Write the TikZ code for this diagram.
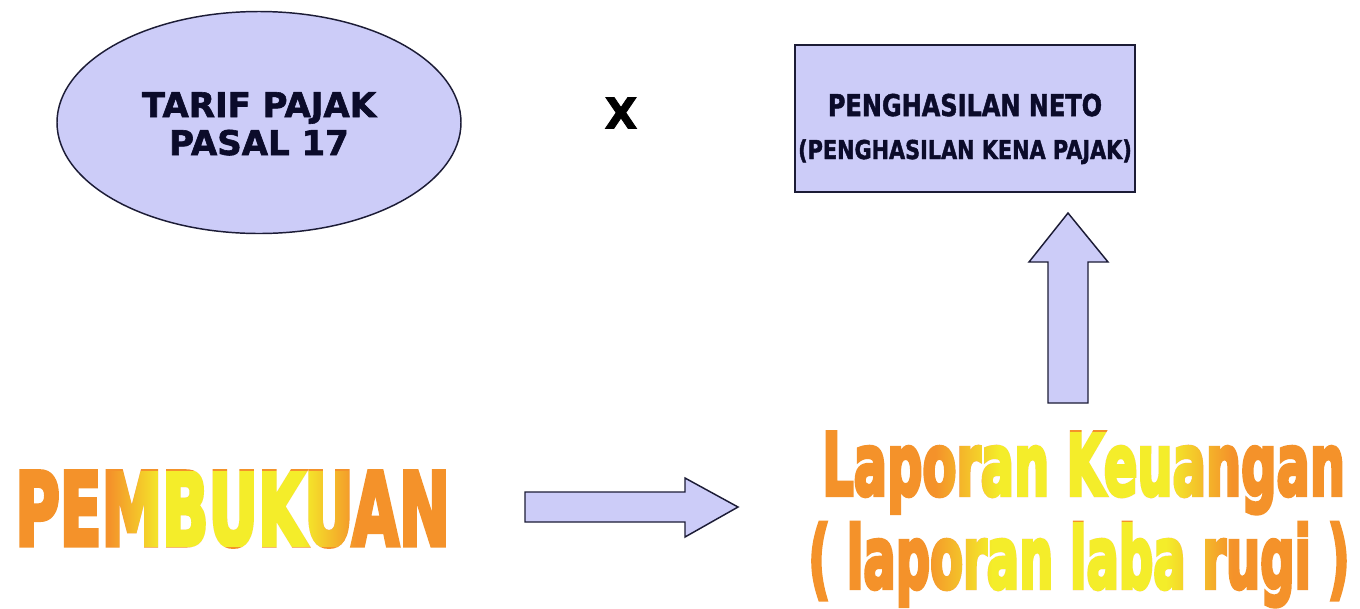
\documentclass[tikz,border=0pt]{standalone}
\usepackage{fontspec}
\usepackage{graphicx}
\setmainfont{DejaVu Sans}[BoldFeatures={FakeBold=1.8}]
\newfontfamily\goldfont{DejaVu Sans}[BoldFeatures={FakeBold=5}]
\usetikzlibrary{shapes.geometric}
\definecolor{lav}{HTML}{CCCCF8}
\definecolor{edgec}{HTML}{1C1C36}
\definecolor{ink}{HTML}{0B0B2A}
\definecolor{org}{HTML}{F4922A}
\pgfdeclarehorizontalshading{goldglow}{100bp}{rgb(0bp)=(0,0,0); rgb(25bp)=(0,0,0); rgb(32bp)=(0,0.35,0.02); rgb(42bp)=(0,0.93,0.02); rgb(58bp)=(0,0.93,0.02); rgb(68bp)=(0,0.35,0.02); rgb(75bp)=(0,0,0); rgb(100bp)=(0,0,0)}
\newcommand{\txtPemb}{\resizebox{326pt}{55pt}{\goldfont\bfseries PEMBUKUAN}}
\newcommand{\txtLapA}{\resizebox{392pt}{47pt}{\goldfont\bfseries Laporan Keuangan}}
\newcommand{\txtLapB}{\resizebox{406pt}{49pt}{\goldfont\bfseries ( laporan laba rugi )}}
\tikzset{
  shapefill/.style={draw=edgec, fill=lav, line width=1.1pt, line join=miter},
  darktext/.style={text=ink, font=\bfseries, inner sep=0pt},
  goldtext/.style={text=org, inner sep=0pt},
}
\begin{document}
\begin{tikzpicture}[x=0.75pt,y=-0.75pt]
\useasboundingbox (0,0) rectangle (1360,608);
\fill[white] (0,0) rectangle (1360,608);

% ellipse
\node[ellipse, shapefill, minimum width=303pt, minimum height=166.5pt] (tarif) at (259,122.5) {};
\node[darktext, anchor=base, font=\bfseries\fontsize{25.5}{25.5}\selectfont] (tarifA) at (259,117) {TARIF PAJAK};
\node[darktext, anchor=base, font=\bfseries\fontsize{25.5}{25.5}\selectfont] (tarifB) at (259,155) {PASAL 17};

% multiplication sign
\node[darktext, font=\bfseries\fontsize{32}{32}\selectfont, text=black] (times) at (621,113) {X};

% rectangle
\node[rectangle, shapefill, minimum width=255pt, minimum height=110pt] (neto) at (965,118.5) {};
\node[darktext, anchor=base] (netoA) at (965,116)
  {\scalebox{0.8}[1]{\fontsize{22.5}{22.5}\selectfont PENGHASILAN NETO}};
\node[darktext, anchor=base] (netoB) at (965,159)
  {\scalebox{0.8}[1]{\fontsize{19.5}{19.5}\selectfont (PENGHASILAN KENA PAJAK)}};

% gold texts
\node[goldtext, anchor=base west] (pemb) at (15,545) {\txtPemb};
\node[goldtext, anchor=base west] (lapa) at (822,495) {\txtLapA};
\node[goldtext, anchor=base west] (lapb) at (808,588) {\txtLapB};
\begin{scope}[blend mode=lighten]
\shade[shading=goldglow] (pemb.south west) rectangle (pemb.north east);
\shade[shading=goldglow] (lapa.south west) rectangle (lapa.north east);
\shade[shading=goldglow] (lapb.south west) rectangle (lapb.north east);
\end{scope}

% block arrow right
\coordinate (ra) at (525,507);
\coordinate (rb) at (738,507);
\draw[shapefill] (525,492) -- (685,492) -- (685,478) -- (rb) -- (685,537) -- (685,522) -- (525,522) -- cycle;

% block arrow up
\coordinate (ua) at (1068,403);
\coordinate (ub) at (1068,213);
\draw[shapefill] (1048,403) -- (1048,262) -- (1029,262) -- (ub) -- (1108,262) -- (1088,262) -- (1088,403) -- cycle;
\end{tikzpicture}
\end{document}
